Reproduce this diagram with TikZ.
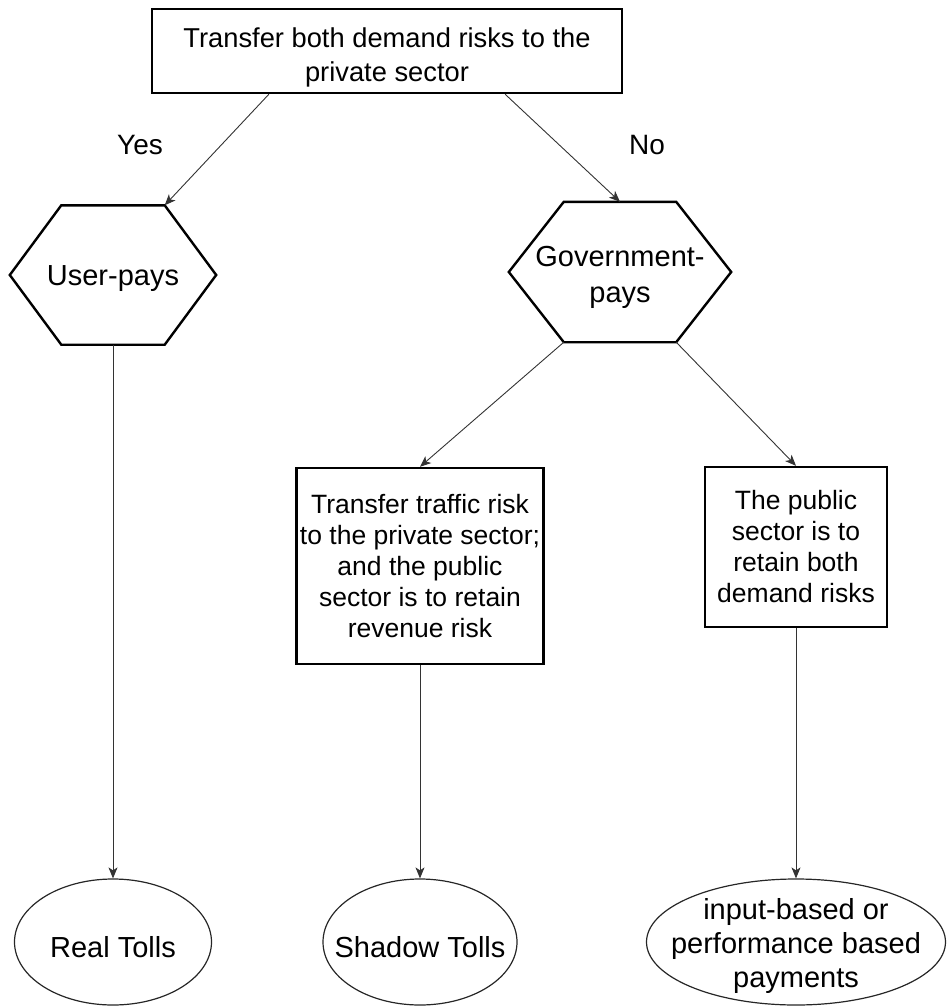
\documentclass[tikz,border=0pt]{standalone}
\usepackage{fontspec}
\setmainfont{Liberation Sans}
\usetikzlibrary{arrows.meta,shapes.geometric,calc}

\begin{document}
\begin{tikzpicture}[
  x=1pt, y=-1pt,
  every node/.style={font=\fontsize{26.5}{31}\selectfont, text=black},
  wide/.style={font=\fontsize{27.3}{34}\selectfont},
  big/.style={font=\fontsize{29}{34}\selectfont},
  boxnode/.style={draw=black, line width=2.4pt, rectangle, inner sep=0pt, align=center},
  hexnode/.style={rectangle, inner sep=0pt},
  hexedge/.style={draw=black, line width=2.4pt, line join=miter},
  oval/.style={draw=black!85, line width=1.2pt, ellipse, inner sep=0pt},
  txt/.style={inner sep=0pt, align=center},
  link/.style={draw=black!80, line width=0.9pt, -{Stealth[length=11pt,width=9pt,inset=3pt]}},
]
\useasboundingbox (0,0) rectangle (950,1006);

% question at the top
\node[boxnode, minimum width=470pt, minimum height=84pt] (top) at (387,51) {};
\node[txt, wide] (topT) at ([yshift=-6pt]top.center)
  {Transfer both demand risks to the\\private sector};

% branch labels
\node[txt, font=\fontsize{28}{34}\selectfont] (yes) at (140,145) {Yes};
\node[txt, font=\fontsize{28}{34}\selectfont] (no) at (647,145) {No};

% hexagonal payment decisions
\node[hexnode, minimum width=206pt, minimum height=139pt] (user) at (113,275) {};
\draw[hexedge] (user.west)
  -- ([xshift=51.5pt]user.north west) coordinate (userTL)
  -- ([xshift=-51.5pt]user.north east) coordinate (userTR)
  -- (user.east)
  -- ([xshift=-51.5pt]user.south east) coordinate (userBR)
  -- ([xshift=51.5pt]user.south west) coordinate (userBL)
  -- cycle;
\node[txt, big] (userT) at ([yshift=-4pt]user.center) {User-pays};

\node[hexnode, minimum width=222pt, minimum height=140pt] (gov) at (620,272) {};
\draw[hexedge] (gov.west)
  -- ([xshift=55pt]gov.north west) coordinate (govTL)
  -- ([xshift=-55pt]gov.north east) coordinate (govTR)
  -- (gov.east)
  -- ([xshift=-55pt]gov.south east) coordinate (govBR)
  -- ([xshift=55pt]gov.south west) coordinate (govBL)
  -- cycle;
\node[txt, font=\fontsize{29}{36}\selectfont] (govT) at ([yshift=-5pt]gov.center) {Government-\\pays};

% risk allocation boxes
\node[boxnode, minimum width=247pt, minimum height=196pt] (mid) at (420,566)
  {Transfer traffic risk\\to the private sector;\\and the public\\sector is to retain\\revenue risk};
\node[boxnode, minimum width=182pt, minimum height=160pt] (pub) at (796,547)
  {The public\\sector is to\\retain both\\demand risks};

% outcomes
\node[oval, minimum width=197pt, minimum height=126pt] (real) at (113,942) {};
\node[txt, big] (realT) at ([yshift=-5pt]real.center) {Real Tolls};
\node[oval, minimum width=194pt, minimum height=126pt] (shadow) at (420,942) {};
\node[txt, big] (shadowT) at ([yshift=-5pt]shadow.center) {Shadow Tolls};
\node[oval, minimum width=299pt, minimum height=126pt] (pay) at (796,942) {};
\node[txt, big] (payT) at ([yshift=-4pt]pay.center) {input-based or\\performance based\\payments};

% connectors
\draw[link] ($(top.south west)!0.25!(top.south east)$) -- (userTR);
\draw[link] ($(top.south west)!0.75!(top.south east)$) -- (gov.north);
\draw[link] (govBL) -- (mid.north);
\draw[link] (govBR) -- (pub.north);
\draw[link] (user.south) -- (real.north);
\draw[link] (mid.south) -- (shadow.north);
\draw[link] (pub.south) -- (pay.north);
\end{tikzpicture}
\end{document}
